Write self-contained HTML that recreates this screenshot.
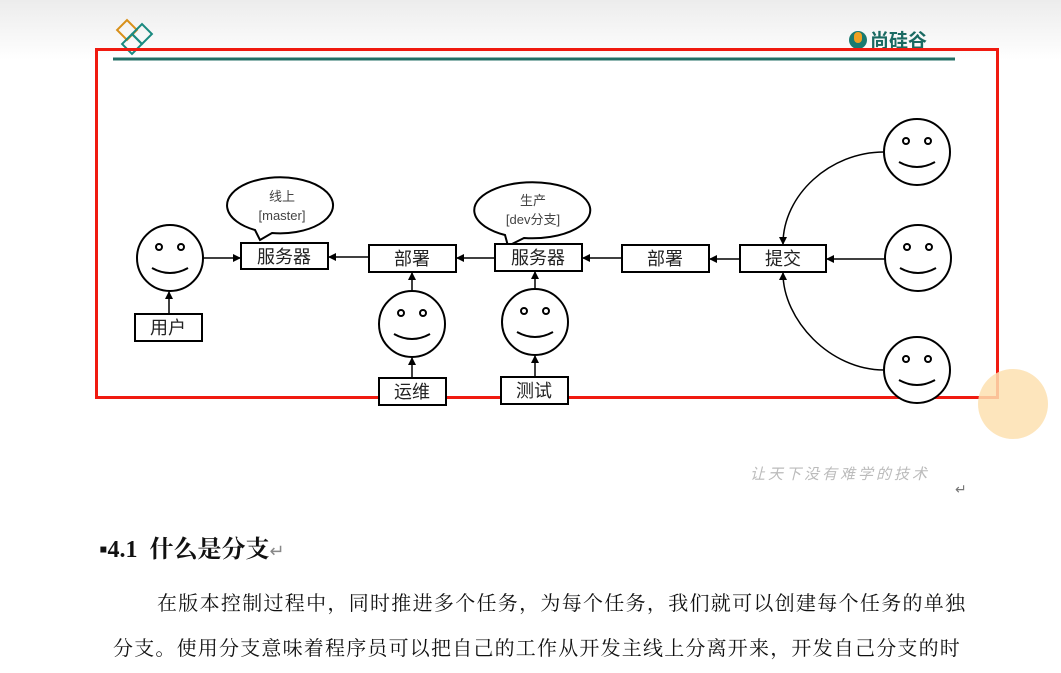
<!DOCTYPE html>
<html><head><meta charset="utf-8"><style>
html,body{margin:0;padding:0;background:#fff;}
body{width:1061px;height:673px;overflow:hidden;position:relative;font-family:"Liberation Sans","Noto Sans CJK SC",sans-serif;}
.top{position:absolute;left:0;top:0;width:1061px;height:60px;background:linear-gradient(#ececec,#fff);}
.t{position:absolute;font-family:"Liberation Serif","Noto Serif CJK SC",serif;color:#111;white-space:nowrap;}
</style></head><body>
<div class="top"></div>
<svg width="1061" height="673" style="position:absolute;left:0;top:0" font-family="Liberation Sans, Noto Sans CJK SC, sans-serif">
<defs><marker id="a" markerWidth="8" markerHeight="8" refX="7" refY="4" orient="auto" markerUnits="userSpaceOnUse"><path d="M0,0 L8,4 L0,8 z" fill="#000"/></marker>
<g id="f"><circle cx="0" cy="0" r="33"/><circle cx="-11" cy="-11" r="3"/><circle cx="11" cy="-11" r="3"/><path d="M-18,10 Q0,20 18,10" fill="none"/></g>
</defs>
<rect x="120" y="23" width="14" height="14" fill="none" stroke="#d8901a" stroke-width="2" transform="rotate(45 127 30)"/>
<rect x="135" y="27" width="14" height="14" fill="none" stroke="#1a8a80" stroke-width="2" transform="rotate(45 142 34)"/>
<rect x="125" y="37" width="14" height="14" fill="none" stroke="#1a8a80" stroke-width="2" transform="rotate(45 132 44)"/>
<circle cx="858" cy="40" r="9" fill="#1a7a70"/><rect x="854" y="32" width="8" height="11" rx="4" fill="#f0a020"/>
<text x="870" y="47" font-size="19" fill="#1a6a62" font-weight="bold">尚硅谷</text>
<rect x="96.5" y="49.5" width="901" height="348" fill="none" stroke="#f01a10" stroke-width="3"/>
<line x1="113" y1="59" x2="955" y2="59" stroke="#236f66" stroke-width="3"/>
<circle cx="1013" cy="404" r="35" fill="#fde0b0" opacity="0.85"/>
<g stroke="#000" stroke-width="2" fill="#fff">
<use href="#f" x="170" y="258"/><use href="#f" x="412" y="324"/><use href="#f" x="535" y="322"/>
<use href="#f" x="917" y="152"/><use href="#f" x="918" y="258"/><use href="#f" x="917" y="370"/>
<path d="M255,230 A53,28 0 1 1 272,233 L260,240 Z"/>
<path d="M505,235 A58,28 0 1 1 524,238 L508,246 Z"/>
<rect x="241" y="243" width="87" height="26"/>
<rect x="369" y="245" width="87" height="27"/>
<rect x="495" y="244" width="87" height="27"/>
<rect x="622" y="245" width="87" height="27"/>
<rect x="740" y="245" width="86" height="27"/>
<rect x="135" y="314" width="67" height="27"/>
<rect x="379" y="378" width="67" height="27"/>
<rect x="501" y="377" width="67" height="27"/>
</g>
<g stroke="#000" stroke-width="1.5" fill="none" marker-end="url(#a)">
<line x1="203" y1="258" x2="240" y2="258"/>
<line x1="369" y1="257" x2="329" y2="257"/>
<line x1="495" y1="258" x2="457" y2="258"/>
<line x1="622" y1="258" x2="583" y2="258"/>
<line x1="740" y1="259" x2="710" y2="259"/>
<line x1="885" y1="259" x2="827" y2="259"/>
<line x1="169" y1="314" x2="169" y2="292"/>
<line x1="412" y1="291" x2="412" y2="273"/>
<line x1="535" y1="289" x2="535" y2="272"/>
<line x1="412" y1="378" x2="412" y2="358"/>
<line x1="535" y1="377" x2="535" y2="356"/>
<path d="M884,152 C830,152 783,195 783,244"/>
<path d="M884,370 C830,370 783,320 783,273"/>
</g>
<g font-size="18" text-anchor="middle" fill="#222">
<text x="284" y="263">服务器</text><text x="412" y="265">部署</text><text x="538" y="264">服务器</text>
<text x="665" y="265">部署</text><text x="783" y="265">提交</text><text x="168" y="334">用户</text>
<text x="412" y="398">运维</text><text x="534" y="397">测试</text>
</g>
<g font-size="13" text-anchor="middle" fill="#444">
<text x="282" y="201">线上</text><text x="282" y="220">[master]</text>
<text x="533" y="205">生产</text><text x="533" y="224">[dev分支]</text>
</g>
<text x="750" y="479" font-size="15" fill="#bbb" font-style="italic" letter-spacing="3">让天下没有难学的技术</text>
<text x="955" y="494" font-size="14" fill="#777">↵</text>
</svg>
<div class="t" style="left:99px;top:529px;font-size:24px;font-weight:bold;">▪4.1&nbsp; 什么是分支<span style="font-weight:normal;color:#888;font-size:18px">↵</span></div>
<div class="t" style="left:157px;top:587px;font-size:20px;letter-spacing:1.3px;">在版本控制过程中，同时推进多个任务，为每个任务，我们就可以创建每个任务的单独</div>
<div class="t" style="left:113px;top:632px;font-size:20px;letter-spacing:1.2px;">分支。使用分支意味着程序员可以把自己的工作从开发主线上分离开来，开发自己分支的时</div>
</body></html>
